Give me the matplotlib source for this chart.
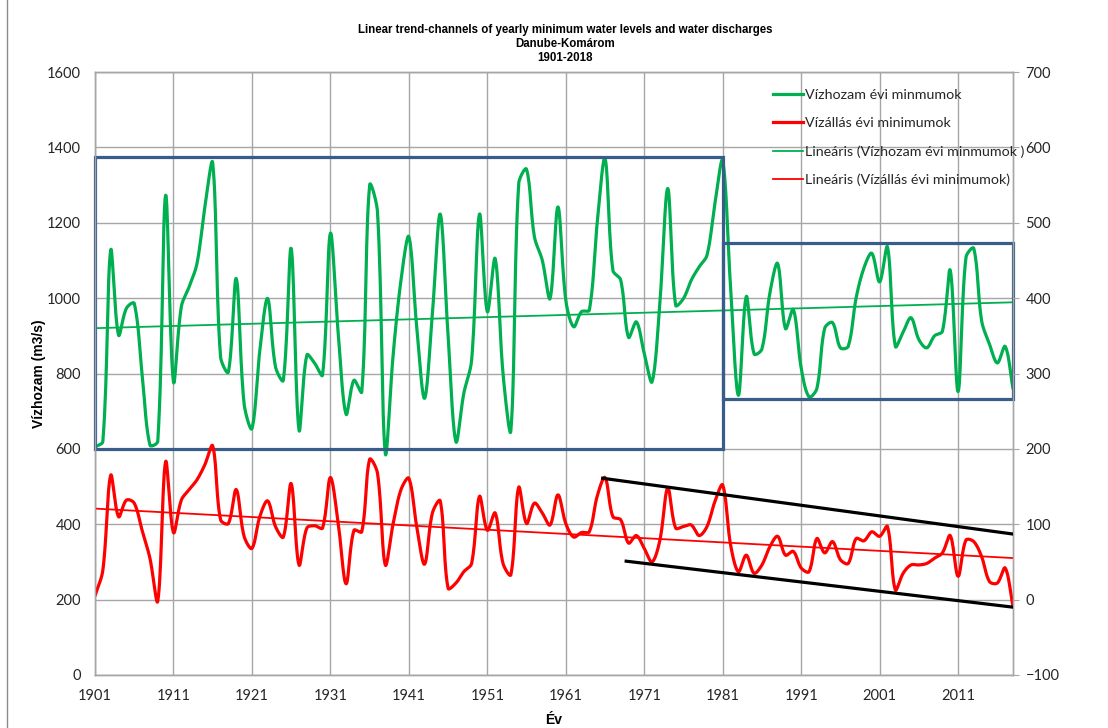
import numpy as np
import matplotlib
matplotlib.use('Agg')
import matplotlib.pyplot as plt
from matplotlib.lines import Line2D
from matplotlib.patches import Rectangle

# yearly minimum discharge (m3/s), left axis
years = np.arange(1901, 2019)
discharge = [
    605, 620, 1127, 902, 973, 986, 800, 610, 620, 1273,
    778, 977, 1030, 1092, 1242, 1359, 844, 804, 1052, 720,
    654, 860, 999, 818, 782, 1132, 650, 849, 827, 796,
    1172, 906, 692, 782, 751, 1300, 1230, 588, 850, 1048,
    1163, 924, 734, 959, 1223, 900, 619, 747, 835, 1223,
    964, 1105, 800, 648, 1304, 1342, 1163, 1101, 999, 1242,
    995, 924, 964, 968, 1198, 1371, 1074, 1048, 896, 937,
    853, 778, 990, 1291, 981, 999, 1048, 1083, 1114, 1250,
    1365, 1030, 742, 1004, 852, 865, 1012, 1092, 919, 970,
    815, 738, 760, 920, 935, 868, 872, 1000, 1080, 1119,
    1043, 1136, 872, 910, 948, 890, 868, 900, 912, 1074,
    752, 1108, 1132, 940, 878, 828, 872, 760,
]
# yearly minimum water level (cm), right axis
level = [
    5, 39, 165, 110, 132, 128, 92, 55, -2, 183,
    89, 132, 146, 159, 179, 204, 106, 101, 146, 84,
    68, 110, 131, 97, 83, 154, 46, 95, 98, 95,
    162, 101, 21, 92, 90, 186, 168, 46, 101, 146,
    161, 97, 47, 115, 131, 15, 22, 37, 48, 137,
    92, 115, 48, 33, 149, 101, 128, 115, 99, 139,
    101, 83, 89, 90, 137, 162, 110, 106, 75, 85,
    68, 50, 79, 148, 95, 97, 99, 85, 97, 130,
    152, 73, 37, 59, 35, 46, 70, 84, 59, 64,
    42, 37, 81, 62, 77, 53, 48, 81, 78, 90,
    84, 97, 13, 35, 46, 46, 48, 55, 62, 85,
    31, 79, 77, 57, 24, 22, 42, -9,
]
xticks = list(range(1901, 2012, 10))

# hand drawn boxes (years, discharge) and channel lines (years, level)
box_early = (1901, 1981, 600, 1375)
box_late = (1981, 2018, 733, 1145)
chan_upper = ([1965.7, 2018], [161, 87])
chan_lower = ([1968.7, 2018], [51, -10])


def smooth(x, y, sx, sy, t=1 / 3, n=16):
    # Excel-like smoothed line: Bezier segments, handles scaled by the
    # on-screen lengths of the neighbouring segments
    P = np.column_stack([np.asarray(x, float) * sx, np.asarray(y, float) * sy])
    m = len(P)
    fa = np.zeros(m)
    fb = np.zeros(m)
    tang = np.zeros_like(P)
    for i in range(m):
        p0 = P[max(i - 1, 0)]
        p2 = P[min(i + 1, m - 1)]
        d0 = np.hypot(*(P[i] - p0))
        d1 = np.hypot(*(p2 - P[i]))
        tot = d0 + d1 if d0 + d1 > 0 else 1
        fa[i] = t * d0 / tot
        fb[i] = t * d1 / tot
        tang[i] = p2 - p0
    u = np.linspace(0, 1, n, endpoint=False)[:, None]
    pts = []
    for i in range(m - 1):
        b0 = P[i]
        b1 = P[i] + fb[i] * tang[i]
        b2 = P[i + 1] - fa[i + 1] * tang[i + 1]
        b3 = P[i + 1]
        pts.append((1 - u) ** 3 * b0 + 3 * (1 - u) ** 2 * u * b1
                   + 3 * (1 - u) * u ** 2 * b2 + u ** 3 * b3)
    pts.append(P[-1:])
    pts = np.vstack(pts)
    return pts[:, 0] / sx, pts[:, 1] / sy


plt.rcParams['font.family'] = ['Lato', 'DejaVu Sans']
grid_c = '#a6a6a6'
green = '#00b050'
red = '#ff0000'
blue = '#385d8a'
arial = ['Liberation Sans', 'DejaVu Sans']

fig = plt.figure(figsize=(11.08, 7.28), dpi=100)
ax = fig.add_axes([95 / 1108, 1 - 675 / 728, (1013 - 95) / 1108, (675 - 72) / 728])
ax2 = ax.twinx()

ax.set_xlim(1901, 2018)
ax.set_ylim(0, 1600)
ax.set_yticks(range(0, 1601, 200))
ax.set_xticks(xticks)
ax.grid(True, color=grid_c, lw=1)
ax.tick_params(length=0, labelsize=10.5, colors='#262626', pad=10)
ax.tick_params(axis='x', pad=10)
ax2.set_ylim(-100, 700)
ax2.set_yticks(range(-100, 701, 100))
ax2.tick_params(axis='y', length=4, color=grid_c, labelsize=10.5,
                labelcolor='#262626', pad=5)
for a in (ax, ax2):
    for s in a.spines.values():
        s.set_color(grid_c)
        s.set_linewidth(1)

# pixel scales of the plot area, for the smoothing
sx = 918 / 117
gx, gy = smooth(years, discharge, sx, 603 / 1600)
ax.plot(gx, gy, color=green, lw=2.3, solid_capstyle='round')
rx, ry = smooth(years, level, sx, 603 / 800)
ax2.plot(rx, ry, color=red, lw=2.3, solid_capstyle='round')

# linear trends
gk = np.polyfit(years, discharge, 1)
ax.plot(years, np.polyval(gk, years), color=green, lw=1.3)
rk = np.polyfit(years, level, 1)
ax2.plot(years, np.polyval(rk, years), color=red, lw=1.3)

# boxes and channel
for x0, x1, y0, y1 in (box_early, box_late):
    ax.add_patch(Rectangle((x0, y0), x1 - x0, y1 - y0, fill=False,
                           ec=blue, lw=2.3, zorder=3, clip_on=False))
for cx, cy in (chan_upper, chan_lower):
    ax2.plot(cx, cy, color='black', lw=2.3, zorder=4)

handles = [
    Line2D([], [], color=green, lw=2.3),
    Line2D([], [], color=red, lw=2.3),
    Line2D([], [], color=green, lw=1.3),
    Line2D([], [], color=red, lw=1.3),
]
labels = ['Vízhozam évi minmumok', 'Vízállás évi minimumok',
          'Lineáris (Vízhozam évi minmumok )', 'Lineáris (Vízállás évi minimumok)']
ax2.legend(handles, labels, loc='upper left', bbox_to_anchor=(760 / 1108, 1 - 76 / 728),
           bbox_transform=fig.transFigure, frameon=False, fontsize=10.3,
           handlelength=2.1, handletextpad=0.15, labelspacing=1.13,
           labelcolor='#262626')

ax.set_ylabel('Vízhozam (m3/s)', fontsize=10, fontweight='bold', family=arial, labelpad=1)
ax.set_xlabel('Év', fontsize=10, fontweight='bold', family=arial, labelpad=7)
fig.text(565 / 1108, 1 - 44 / 728,
         'Linear trend-channels of yearly minimum water levels and water discharges\n'
         'Danube-Komárom\n1901-2018',
         ha='center', va='center', fontsize=8.3, fontweight='bold', linespacing=1.25,
         family=arial)
fig.add_artist(Line2D([7 / 1108, 7 / 1108], [0, 1], transform=fig.transFigure,
                      color='#8c8c8c', lw=1))

fig.savefig('out.png', dpi=100)
